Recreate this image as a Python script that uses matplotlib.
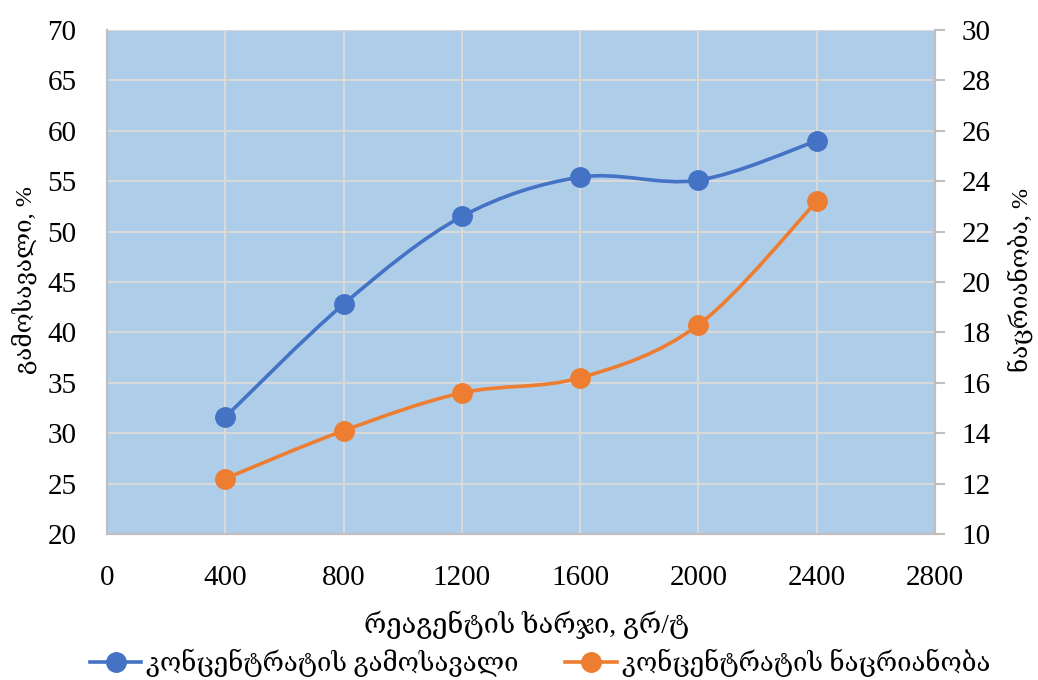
import matplotlib
matplotlib.use("Agg")
import matplotlib.pyplot as plt
from matplotlib.path import Path
from matplotlib.patches import PathPatch
from matplotlib.lines import Line2D
import numpy as np

# data
reagent = [400, 800, 1200, 1600, 2000, 2400]
yield_pct = [31.6, 42.8, 51.5, 55.4, 55.1, 59.0]
ash_pct = [12.2, 14.1, 15.6, 16.2, 18.3, 23.2]

x_ticks = [0, 400, 800, 1200, 1600, 2000, 2400, 2800]
left_ticks = [20, 25, 30, 35, 40, 45, 50, 55, 60, 65, 70]
right_ticks = [10, 12, 14, 16, 18, 20, 22, 24, 26, 28, 30]

xlabel = "რეაგენტის ხარჯი, გრ/ტ"
ylabel_left = "გამოსავალი, %"
ylabel_right = "ნაცრიანობა, %"
name_yield = "კონცენტრატის გამოსავალი"
name_ash = "კონცენტრატის ნაცრიანობა"

BLUE = "#4472c4"
ORANGE = "#ed7d31"
BG = "#aecde9"
GRID = "#d9d9d9"
SPINE = "#bfbfbf"

plt.rcParams["font.family"] = ["Liberation Serif", "DejaVu Serif"]
plt.rcParams["font.size"] = 21


def smooth_path(xs, ys):
    # excel-style smoothed line: cubic bezier through the points
    pts = np.column_stack([xs, ys]).astype(float)
    n = len(pts)
    verts = [pts[0]]
    codes = [Path.MOVETO]
    for i in range(n - 1):
        p0 = pts[i - 1] if i > 0 else pts[i]
        p1 = pts[i]
        p2 = pts[i + 1]
        p3 = pts[i + 2] if i + 2 < n else pts[i + 1]
        c1 = p1 + (p2 - p0) / 6
        c2 = p2 - (p3 - p1) / 6
        verts += [c1, c2, p2]
        codes += [Path.CURVE4] * 3
    return Path(verts, codes)


W, H = 1038, 680
fig = plt.figure(figsize=(W / 100, H / 100), dpi=100)
ax = fig.add_axes([107 / W, 1 - 534 / H, 828 / W, 504 / H])
ax2 = ax.twinx()

ax.set_facecolor(BG)
ax.set_xlim(0, 2800)
ax.set_ylim(20, 70)
ax2.set_ylim(10, 30)
ax.set_xticks(x_ticks)
ax.set_yticks(left_ticks)
ax2.set_yticks(right_ticks)

ax.grid(True, color=GRID, linewidth=1.5)
ax.set_axisbelow(True)

for a in (ax, ax2):
    for s in a.spines.values():
        s.set_color(SPINE)
        s.set_linewidth(1.5)
    a.spines["top"].set_visible(False)

ax.tick_params(axis="x", length=0, pad=22)
ax.tick_params(axis="y", length=0, pad=22)
ax2.tick_params(axis="y", length=7, width=1.5, color=SPINE, pad=12)

for a, xs, ys, col in ((ax, reagent, yield_pct, BLUE), (ax2, reagent, ash_pct, ORANGE)):
    a.add_patch(PathPatch(smooth_path(xs, ys), facecolor="none", edgecolor=col,
                          linewidth=2.6, capstyle="round", zorder=3))
    a.plot(xs, ys, linestyle="none", marker="o", markersize=14, color=col, zorder=4)

fig.text(527 / W, 1 - 625 / H, xlabel, ha="center", va="center", fontsize=19.5)
fig.text(24 / W, 1 - 280 / H, ylabel_left, ha="center", va="center", rotation=90, fontsize=17.5)
fig.text(1020 / W, 1 - 280 / H, ylabel_right, ha="center", va="center", rotation=90, fontsize=17.5)

handles = [
    Line2D([], [], color=BLUE, linewidth=2.6, marker="o", markersize=14),
    Line2D([], [], color=ORANGE, linewidth=2.6, marker="o", markersize=14),
]
fig.legend(handles, [name_yield, name_ash], loc="center", bbox_to_anchor=(540 / W, 1 - 663 / H),
           ncol=2, frameon=False, handlelength=2.0, handletextpad=0.2, columnspacing=1.8,
           borderaxespad=0, fontsize=18.5)

fig.savefig("out.png", dpi=100, facecolor="white")
